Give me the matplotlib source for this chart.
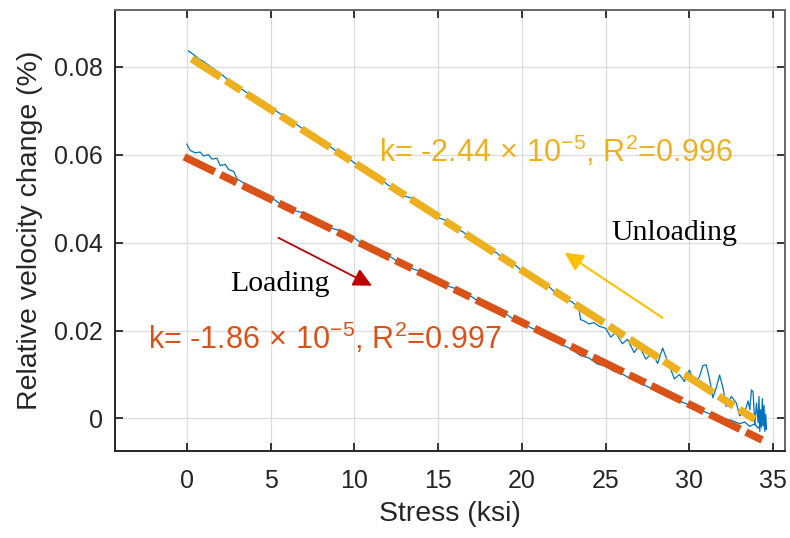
import numpy as np
import matplotlib
matplotlib.use('Agg')
import matplotlib.pyplot as plt

plt.rcParams['font.family'] = ['Liberation Sans', 'DejaVu Sans']
plt.rcParams['mathtext.fontset'] = 'custom'
plt.rcParams['mathtext.rm'] = 'Liberation Sans'
plt.rcParams['mathtext.it'] = 'Liberation Sans:italic'
plt.rcParams['mathtext.default'] = 'regular'

# mesure brute (branche chargement puis déchargement)
x_load = [0.0, 0.2, 0.5, 0.8, 1.0, 1.3, 1.5, 1.8, 2.0, 2.3, 2.5, 2.8, 3.0, 3.5, 4.0, 4.5,
          5.0, 5.5, 6.0, 6.5, 7.0, 7.5, 8.0, 8.5, 9.0, 9.5,
          10.0, 10.5, 11.0, 11.5, 12.0, 12.5, 13.0, 13.5, 14.0, 14.5,
          15.0, 15.5, 16.0, 16.5, 17.0, 17.5, 18.0, 18.5, 19.0, 19.5,
          20.0, 20.5, 21.0, 21.5, 22.0, 22.5, 23.0, 23.5, 24.0, 24.5,
          25.0, 25.5, 26.0, 26.5, 27.0, 27.5, 28.0, 28.5, 29.0, 29.5,
          30.0, 30.5, 31.0, 31.5, 32.0, 32.5, 33.0, 33.3, 33.6, 33.9, 34.1, 34.3, 34.5]
y_load = [0.0624, 0.0610, 0.0604, 0.0606, 0.0597, 0.0600, 0.0590, 0.0592, 0.0575, 0.0578, 0.0566, 0.0562, 0.0545, 0.0533, 0.0523, 0.0512,
          0.0504, 0.0490, 0.0486, 0.0472, 0.0467, 0.0453, 0.0447, 0.0434, 0.0429, 0.0416,
          0.0410, 0.0397, 0.0391, 0.0378, 0.0372, 0.0359, 0.0353, 0.0340, 0.0334, 0.0321,
          0.0315, 0.0302, 0.0296, 0.0283, 0.0277, 0.0264, 0.0258, 0.0246, 0.0239, 0.0226,
          0.0219, 0.0207, 0.0199, 0.0185, 0.0178, 0.0166, 0.0157, 0.0143, 0.0138, 0.0124,
          0.0119, 0.0107, 0.0101, 0.0090, 0.0084, 0.0072, 0.0066, 0.0055, 0.0050, 0.0038,
          0.0031, 0.0022, 0.0014, 0.0006, -0.0001, -0.0004, -0.0012, -0.0008, -0.0018, -0.0012, -0.0022, -0.0010, -0.0020]

x_unload = [34.6, 34.55, 34.5, 34.45, 34.4, 34.35, 34.3, 34.25, 34.2, 34.15, 34.1, 34.0, 33.9, 33.8,
            33.7, 33.6, 33.5, 33.3, 33.0, 32.8, 32.5, 32.2, 32.0, 31.8, 31.6, 31.4, 31.2, 31.0,
            30.8, 30.6, 30.3, 30.0, 29.7, 29.4, 29.1, 28.8, 28.4, 28.1, 27.8, 27.4, 27.0, 26.7,
            26.3, 26.0, 25.6, 25.3, 25.0, 24.6, 24.3, 24.0, 23.7, 23.5, 23.4, 23.0, 22.5, 22.0,
            21.5, 21.0, 20.5, 20.0, 19.5, 19.0, 18.5, 18.0, 17.5, 17.0, 16.5, 16.0, 15.5, 15.0,
            14.5, 14.0, 13.5, 13.0, 12.5, 12.0, 11.5, 11.0, 10.5, 10.0, 9.5, 9.0, 8.5, 8.0,
            7.5, 7.0, 6.5, 6.0, 5.5, 5.0, 4.5, 4.0, 3.5, 3.0, 2.5, 2.0, 1.5, 1.0, 0.7, 0.4, 0.1]
y_unload = [-0.0025, 0.0010, -0.0030, 0.0030, -0.0015, 0.0045, -0.0020, 0.0020, -0.0030, 0.0050, -0.0010, 0.0035, -0.0015, 0.0060,
            0.0065, 0.0020, 0.0040, 0.0015, 0.0006, 0.0035, 0.0050, 0.0027, 0.0070, 0.0099, 0.0070, 0.0047, 0.0090, 0.0122,
            0.0120, 0.0095, 0.0080, 0.0110, 0.0084, 0.0100, 0.0090, 0.0120, 0.0160, 0.0125, 0.0150, 0.0135, 0.0165, 0.0150,
            0.0180, 0.0170, 0.0195, 0.0185, 0.0205, 0.0210, 0.0218, 0.0215, 0.0222, 0.0225, 0.0252, 0.0265, 0.0272, 0.0286,
            0.0304, 0.0311, 0.0327, 0.0336, 0.0352, 0.0358, 0.0377, 0.0383, 0.0401, 0.0408, 0.0424, 0.0433, 0.0450, 0.0457,
            0.0474, 0.0482, 0.0500, 0.0506, 0.0523, 0.0531, 0.0548, 0.0556, 0.0572, 0.0581, 0.0597, 0.0606, 0.0620, 0.0632,
            0.0645, 0.0657, 0.0670, 0.0683, 0.0695, 0.0708, 0.0718, 0.0733, 0.0743, 0.0757, 0.0769, 0.0785, 0.0798, 0.0812, 0.0818, 0.0828, 0.0836]

# droites de regression (extremites)
fit_load_x = [-0.15, 34.5]
fit_load_y = [0.0595, -0.0052]
fit_unload_x = [0.3, 33.9]
fit_unload_y = [0.0818, -0.0002]

label_load = 'k= -1.86$\\,\\times\\,$10$^{-5}$, R$^{2}$=0.997'
label_unload = 'k= -2.44$\\,\\times\\,$10$^{-5}$, R$^{2}$=0.996'

fig = plt.figure(figsize=(7.9, 5.38), dpi=100)
ax = fig.add_axes([0.1456, 0.1617, 0.848, 0.8197])

ax.plot(x_load + x_unload, y_load + y_unload, color='#0072BD', lw=0.9, zorder=2)

l1, = ax.plot(fit_unload_x, fit_unload_y, color='#EDB120', lw=5.5, zorder=3)
l2, = ax.plot(fit_load_x, fit_load_y, color='#D95319', lw=5.5, zorder=3)
for l in (l1, l2):
    l.set_dashes([4.45, 0.85, 2.36, 0.85])
    l.set_dash_capstyle('butt')

ax.text(-2.29, 0.0158, label_load, color='#D95319', fontsize=22, va='baseline', ha='left')
ax.text(11.45, 0.0584, label_unload, color='#EDB120', fontsize=22, va='baseline', ha='left')

ax.text(2.59, 0.0291, 'Loading', family='Liberation Serif', fontsize=21.5, va='baseline', ha='left')
ax.text(25.33, 0.0407, 'Unloading', family='Liberation Serif', fontsize=21.5, va='baseline', ha='left')

ax.annotate('', xy=(11.05, 0.0302), xytext=(5.47, 0.0411),
            arrowprops=dict(arrowstyle='-|>', color='#C00000', lw=1.3, mutation_scale=28, shrinkA=0, shrinkB=0))
ax.annotate('', xy=(22.55, 0.0377), xytext=(28.39, 0.0229),
            arrowprops=dict(arrowstyle='-|>', color='#FFC000', lw=1.5, mutation_scale=28, shrinkA=0, shrinkB=0))

ax.set_xlim(-4.28, 35.7)
ax.set_ylim(-0.0074, 0.0929)
ax.set_xticks([0, 5, 10, 15, 20, 25, 30, 35])
ax.set_yticks([0, 0.02, 0.04, 0.06, 0.08])
ax.set_yticklabels(['0', '0.02', '0.04', '0.06', '0.08'])

ax.grid(True, color='#dddddd', lw=0.9)
ax.set_axisbelow(True)
ax.tick_params(direction='in', length=5.5, width=1.3, colors='#262626', labelsize=18,
               top=True, right=True)
ax.tick_params(axis='x', pad=13)
ax.tick_params(axis='y', pad=9)
for s in ['left', 'bottom']:
    ax.spines[s].set_color('#262626')
    ax.spines[s].set_linewidth(1.4)
for s in ['top', 'right']:
    ax.spines[s].set_color('#666666')
    ax.spines[s].set_linewidth(1.4)

ax.set_xlabel('Stress (ksi)', fontsize=20.5, color='#262626', labelpad=6)
ax.set_ylabel('Relative velocity change (%)', fontsize=20.5, color='#262626', labelpad=8)

plt.savefig('out.png', dpi=100)
